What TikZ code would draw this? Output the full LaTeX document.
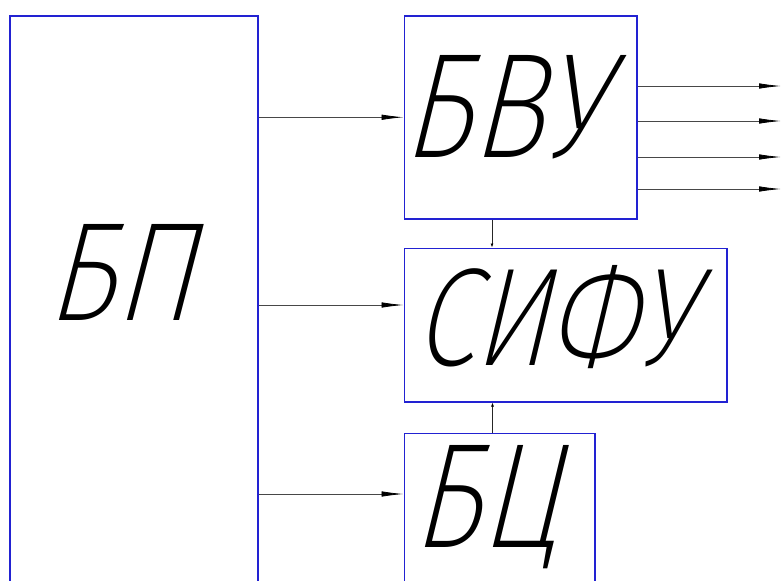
\documentclass[tikz,border=0pt]{standalone}
\usepackage{fontspec}
\usetikzlibrary{arrows.meta}
\newfontfamily\gost{Fira Sans ExtraLight}[FakeSlant=0.3]
\definecolor{boxblue}{RGB}{34,34,210}
\definecolor{wire}{RGB}{72,72,72}
\tikzset{
  block/.style={draw=boxblue, line width=1.5pt, fill=white, inner sep=0pt, anchor=north west},
  label/.style={inner sep=0pt, anchor=base west, text=black},
  conn/.style={draw=wire, line width=0.8pt,
    -{Latex[length=22pt,width=5.5pt,color=black]}},
  link/.style={draw=black!85, line width=0.8pt,
    -{Latex[length=4pt,width=3pt,color=black]}}
}
\begin{document}
\begin{tikzpicture}[x=1pt,y=-1pt]
  \useasboundingbox (0,0) rectangle (782,581);
  \clip (0,0) rectangle (782,581);
  \fill[white] (0,0) rectangle (782,581);

  % blocks
  \node[block, minimum width=248pt, minimum height=600pt] (bp)   at (9,15)    {};
  \node[block, minimum width=232.5pt, minimum height=203pt] (bvu) at (403.5,15) {};
  \node[block, minimum width=322.5pt, minimum height=153.5pt] (sifu) at (403.5,247.5) {};
  \node[block, minimum width=190.5pt, minimum height=200pt] (bc)  at (403.5,432.7) {};

  % labels
  \node[label] (tbp)   at (45,320)  {\resizebox{148pt}{96pt}{\gost БП}};
  \node[label] (tbvu)  at (401,157) {\resizebox{201pt}{102pt}{\gost БВУ}};
  \node[label] (tsifu) at (413,365) {\resizebox{278pt}{100pt}{\gost СИФУ}};
  \node[label] (tbc)   at (411,547) {\resizebox{147pt}{102pt}{\gost БЦ}};

  % feeds from the supply block
  \draw[conn] (bp.east |- bvu.west) -- (bvu.west);
  \draw[conn] (bp.east |- 0,305) -- (sifu.west |- 0,305);
  \draw[conn] (bp.east |- 0,494) -- (bc.west |- 0,494);

  % outputs
  \foreach \yy [count=\i] in {86,121,157,189} {
    \coordinate (out\i) at (781,\yy);
    \draw[conn] (bvu.east |- out\i) -- (out\i);
  }

  % links to the phase control block
  \draw[link] (bvu.south -| 492,0) -- (sifu.north -| 492,0);
  \draw[link] (bc.north -| 492.5,0) -- (sifu.south -| 492.5,0);
\end{tikzpicture}
\end{document}
